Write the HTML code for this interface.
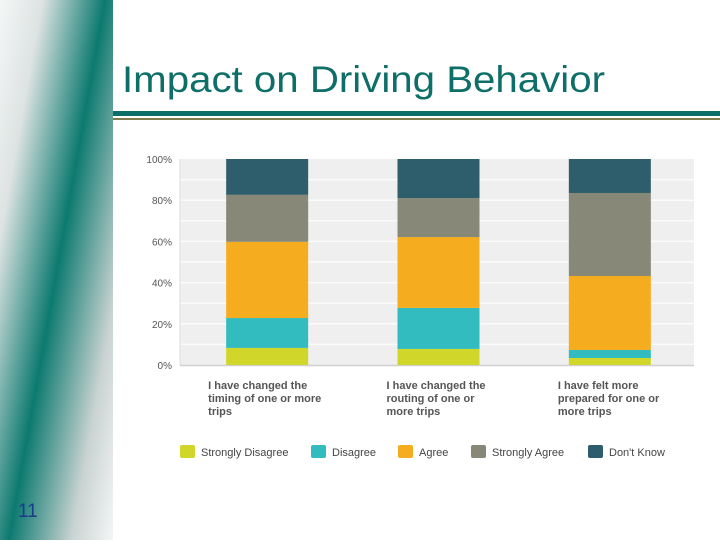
<!DOCTYPE html>
<html><head><meta charset="utf-8"><style>
html,body{margin:0;padding:0;background:#fff;}
body{width:720px;height:540px;position:relative;overflow:hidden;font-family:"Liberation Sans",Arial,sans-serif;}
</style></head><body>
<svg width="720" height="540" viewBox="0 0 720 540" xmlns="http://www.w3.org/2000/svg">
<defs>
<linearGradient id="side" gradientUnits="userSpaceOnUse" x1="-44" y1="252" x2="158" y2="288">
<stop offset="0" stop-color="#f4f6f6"/><stop offset="0.2" stop-color="#dde3e2"/><stop offset="0.5" stop-color="#0c7a70"/><stop offset="0.8" stop-color="#c9d3d1"/><stop offset="1" stop-color="#f4f6f6"/>
</linearGradient>
</defs>
<rect x="0" y="0" width="113" height="540" fill="url(#side)"/>
<text x="122" y="92" font-family="'Liberation Sans',sans-serif" font-size="37" fill="#0e6e68" textLength="483" lengthAdjust="spacingAndGlyphs">Impact on Driving Behavior</text>
<rect x="113" y="111" width="607" height="5" fill="#0c6e68"/>
<rect x="113" y="118" width="607" height="2" fill="#7b7b4e"/>
<text x="18" y="517" font-size="19" fill="#1a3a8c">11</text>
<g id="chart"></g>
</svg>
<script>
const categories = [["I have changed the","timing of one or more","trips"],["I have changed the","routing of one or","more trips"],["I have felt more","prepared for one or","more trips"]];
const seriesNames = ["Strongly Disagree","Disagree","Agree","Strongly Agree","Don't Know"];
const stronglyDisagree = [8.3, 7.8, 3.4];
const disagree = [14.5, 19.9, 3.9];
const agree = [37, 34.4, 35.9];
const stronglyAgree = [22.8, 18.9, 40.3];
const dontKnow = [17.4, 19, 16.5];
const yTicks = [0,20,40,60,80,100];
const seriesColors = ["#d0d62a","#33bcbf","#f5ad1f","#878877","#2e5e6b"];
const series = [stronglyDisagree, disagree, agree, stronglyAgree, dontKnow];

const NS="http://www.w3.org/2000/svg";
const g=document.getElementById('chart');
const L=180,R=694,T=159,B=365;
const y=v=>B-(v/100)*(B-T);
const bandW=(R-L)/categories.length;
const barW=82;
const xc=i=>L+bandW*(i+0.5)+1.5;
function mk(t,a){const e=document.createElementNS(NS,t);for(const k in a)e.setAttribute(k,a[k]);g.appendChild(e);return e;}
let e=mk('rect',{x:L,y:T,width:R-L,height:B-T,fill:'#efefef'});


for(let v=10;v<100;v+=10){const l=mk('line',{x1:L,x2:R,y1:y(v),y2:y(v),stroke:'#fbfbfb','stroke-width':1.5});

}
e=mk('line',{x1:L,x2:L,y1:T,y2:B,stroke:'#dcdcdc','stroke-width':1});


e=mk('line',{x1:L,x2:R,y1:B+0.5,y2:B+0.5,stroke:'#d0d0d0','stroke-width':1.5});


yTicks.forEach(v=>{const t=mk('text',{x:172,y:y(v)+4,'text-anchor':'end','font-size':10,fill:'#555'});t.textContent=v+'%';

});
categories.forEach((c,i)=>{
 let acc=0;
 series.forEach((s,j)=>{const v=s[i];const r=mk('rect',{x:xc(i)-barW/2,y:y(acc+v),width:barW,height:y(acc)-y(acc+v),fill:seriesColors[j]});
 
 
 acc+=v;});
 const lx=xc(i)-(i===0?59:52);
 const t=mk('text',{x:lx,y:389,'font-size':11,'font-weight':'bold',fill:'#555'});
 
 
 c.forEach((line,k)=>{const ts=document.createElementNS(NS,'tspan');ts.setAttribute('x',lx);ts.setAttribute('y',389+k*13);ts.textContent=line;t.appendChild(ts);});
});
const legX=[180,311,398,471,588];
seriesNames.forEach((n,j)=>{
 const r=mk('rect',{x:legX[j],y:445,width:15,height:13,rx:2,fill:seriesColors[j]});
 
 
 const t=mk('text',{x:legX[j]+21,y:456,'font-size':11,fill:'#444'});t.textContent=n;
 
 
});
</script>
</body></html>
